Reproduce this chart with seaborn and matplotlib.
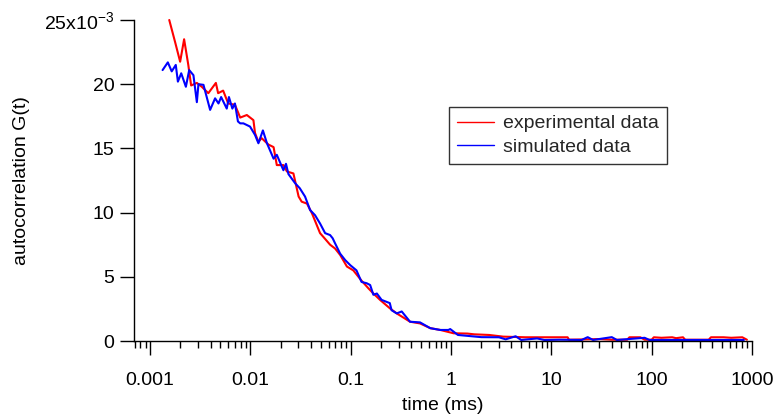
import numpy as np
import pandas as pd
import seaborn as sns
import matplotlib.pyplot as plt
from matplotlib.ticker import FixedLocator, LogLocator, NullFormatter

# experimental data (time in ms, G(t) in units of 1e-3)
exp_t = [0.00155, 0.00177, 0.00199, 0.00218, 0.0024, 0.00256, 0.00292, 0.00327, 0.0038,
         0.00452, 0.00476, 0.00534, 0.0060, 0.0070, 0.0079, 0.0092, 0.0107, 0.0111, 0.0120,
         0.0129, 0.0151, 0.0170, 0.0183, 0.0213, 0.0231, 0.0268, 0.0302, 0.0324, 0.0366,
         0.041, 0.0494, 0.0534, 0.0622, 0.0698, 0.0784, 0.0915, 0.106, 0.128, 0.150, 0.168,
         0.196, 0.245, 0.287, 0.39, 0.49, 0.62, 0.78, 1.06, 1.45, 1.7, 2.4, 3.3, 5.5, 7.5,
         11, 14.5, 15, 20, 30, 40, 57, 60, 77, 85, 100, 105, 125, 160, 175, 205, 216,
         270, 370, 390, 520, 620, 800, 890]
exp_g = [25.0, 23.3, 21.75, 23.5, 21.5, 19.9, 20.1, 19.8, 19.3,
         20.1, 19.3, 19.5, 18.5, 18.4, 17.4, 17.6, 17.2, 16.2, 15.5,
         15.8, 15.3, 15.1, 13.7, 13.7, 13.2, 13.05, 11.25, 10.85, 10.7,
         9.95, 8.4, 8.1, 7.5, 7.2, 6.7, 5.8, 5.5, 4.7, 4.1, 3.7,
         3.2, 2.55, 2.15, 1.5, 1.37, 1.0, 0.86, 0.6, 0.58, 0.52, 0.47, 0.34, 0.29, 0.29,
         0.29, 0.29, 0.1, 0.12, 0.15, 0.1, 0.1, 0.29, 0.29, 0.1, 0.1, 0.29, 0.25, 0.29, 0.22, 0.29, 0.1,
         0.1, 0.1, 0.29, 0.29, 0.25, 0.29, 0.1]

# simulated data
sim_t = [0.00133, 0.0015, 0.00164, 0.0018, 0.00189, 0.00204, 0.00227, 0.00245, 0.0027,
         0.00292, 0.00303, 0.0034, 0.00396, 0.00444, 0.0048, 0.0051, 0.0058, 0.0061, 0.0066,
         0.0070, 0.0075, 0.0079, 0.0085, 0.0099, 0.0111, 0.0120, 0.0133, 0.0146, 0.0170,
         0.0183, 0.0213, 0.0226, 0.0239, 0.0278, 0.031, 0.035, 0.0393, 0.044, 0.0494,
         0.0555, 0.0622, 0.066, 0.0698, 0.0784, 0.088, 0.099, 0.114, 0.128, 0.144, 0.156,
         0.168, 0.182, 0.203, 0.245, 0.255, 0.287, 0.322, 0.39, 0.49, 0.62, 0.78, 0.94,
         0.98, 1.17, 2.0, 3.0, 3.5, 4.4, 5.0, 7.2, 8.5, 12, 20, 23, 26, 40, 45, 85, 95,
         200, 400, 830]
sim_g = [21.1, 21.7, 21.0, 21.5, 20.2, 20.85, 19.8, 21.1, 20.7,
         18.6, 20.0, 19.95, 18.0, 18.9, 18.5, 19.0, 18.1, 19.0, 18.1,
         18.5, 17.1, 16.95, 16.95, 16.7, 16.05, 15.4, 16.4, 15.4, 14.2,
         14.5, 13.3, 13.8, 13.0, 12.3, 11.9, 11.25, 10.2, 9.8, 9.15,
         8.4, 8.25, 8.0, 7.6, 6.8, 6.3, 5.9, 5.5, 4.6, 4.5, 4.36,
         3.6, 3.7, 3.2, 2.95, 2.4, 2.15, 2.3, 1.5, 1.45, 1.0, 0.86, 0.86,
         0.93, 0.47, 0.3, 0.29, 0.13, 0.37, 0.08, 0.2, 0.08, 0.1, 0.08, 0.3, 0.08, 0.3, 0.08, 0.25, 0.08,
         0.08, 0.08, 0.08]

x_ticks = [0.001, 0.01, 0.1, 1, 10, 100, 1000]
x_labels = ['0.001', '0.01', '0.1', '1', '10', '100', '1000']
y_ticks = [0, 5, 10, 15, 20, 25]
y_labels = ['0', '5', '10', '15', '20', '25x10$^{-3}$']

sns.set_style('ticks')
plt.rcParams['font.family'] = ['Liberation Sans', 'DejaVu Sans']
plt.rcParams['mathtext.default'] = 'regular'

df_exp = pd.DataFrame({'t': exp_t, 'g': exp_g})
df_sim = pd.DataFrame({'t': sim_t, 'g': sim_g})

fig = plt.figure(figsize=(7.74, 4.19), dpi=100)
ax = fig.add_axes([134 / 774, 1 - 341 / 419, (752 - 134) / 774, (341 - 20) / 419])

sns.lineplot(data=df_exp, x='t', y='g', ax=ax, color='#ff0000', lw=1.5,
             sort=False, estimator=None, label='experimental data')
sns.lineplot(data=df_sim, x='t', y='g', ax=ax, color='#0000ff', lw=1.5,
             sort=False, estimator=None, label='simulated data')

ax.set_xscale('log')
ax.set_xlim(0.00069, 1000)
ax.set_ylim(0, 25)
for ln in ax.get_lines():
    ln.set_clip_on(False)

ax.xaxis.set_major_locator(FixedLocator(x_ticks))
ax.set_xticklabels(x_labels)
ax.xaxis.set_minor_locator(LogLocator(base=10, subs=np.arange(2, 10)))
ax.xaxis.set_minor_formatter(NullFormatter())
ax.set_yticks(y_ticks)
ax.set_yticklabels(y_labels)

ax.tick_params(axis='both', which='major', length=10, width=1.0, labelsize=14,
               color='black', labelcolor='black', direction='out')
ax.tick_params(axis='y', which='major', pad=4)
ax.tick_params(axis='x', which='major', pad=12)
ax.tick_params(axis='x', which='minor', length=5, width=1.0, color='black')
for side in ['top', 'right']:
    ax.spines[side].set_visible(False)
for side in ['left', 'bottom']:
    ax.spines[side].set_color('black')
    ax.spines[side].set_linewidth(1.0)

ax.set_xlabel('time (ms)', fontsize=14, color='black', labelpad=6)
ax.set_ylabel('autocorrelation G(t)', fontsize=14, color='black', labelpad=10)

leg = ax.legend(loc='upper left', bbox_to_anchor=(449 / 774, 1 - 107 / 419),
                bbox_transform=fig.transFigure, borderaxespad=0, fontsize=14,
                frameon=True, fancybox=False, handlelength=1.9, handletextpad=0.5,
                labelspacing=0.3, borderpad=0.4)
leg.get_frame().set_edgecolor('black')
leg.get_frame().set_linewidth(1.0)
for h in leg.get_lines():
    h.set_linewidth(1.0)

fig.savefig('out.png', dpi=100)
